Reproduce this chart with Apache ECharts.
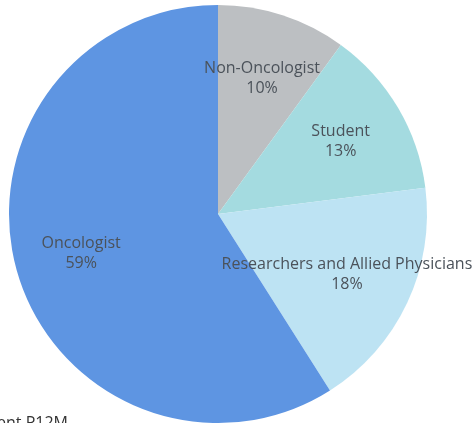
<!DOCTYPE html>
<html>
<head>
<meta charset="utf-8">
<style>
  html, body { margin: 0; padding: 0; background: #fff; }
  #chart { width: 472px; height: 423px; }
</style>
<script src="https://cdn.jsdelivr.net/npm/echarts@6/dist/echarts.min.js"></script>
</head>
<body>
<div id="chart"></div>
<script>
const categories = ["Non-Oncologist", "Student", "Researchers and Allied Physicians", "Oncologist"];
const shares = [10, 13, 18, 59];
const sliceColors = ["#bcbfc2", "#a4dbe0", "#bde3f3", "#5e95e2"];

const pieData = categories.map((name, i) => ({
  name,
  value: shares[i],
  itemStyle: { color: sliceColors[i] },
}));

const chart = echarts.init(document.getElementById("chart"), null, { renderer: "canvas" });
chart.setOption({
  backgroundColor: "#fff",
  animation: false,
  graphic: [
    {
      type: "text",
      x: 68,
      y: 415,
      style: {
        text: "Segment P12M",
        textAlign: "right",
        fill: "#333",
        font: "16px 'Open Sans', sans-serif",
      },
    },
  ],
  series: [
    {
      type: "pie",
      center: [218, 214],
      radius: [0, 209],
      startAngle: 90,
      clockwise: true,
      silent: true,
      label: { show: false },
      labelLine: { show: false },
      data: pieData,
    },
    {
      // label carrier: same slices, invisible, labels placed further out
      type: "pie",
      center: [218, 214],
      radius: [70, 209],
      startAngle: 90,
      clockwise: true,
      silent: true,
      itemStyle: { color: "transparent" },
      label: {
        show: true,
        position: "inside",
        formatter: "{b}\n{d}%",
        color: "#4b525a",
        fontFamily: "'Open Sans', sans-serif",
        fontSize: 16,
        lineHeight: 20,
        align: "center",
      },
      labelLine: { show: false },
      data: pieData.map(d => ({ name: d.name, value: d.value, itemStyle: { color: "transparent" } })),
    },
  ],
});
</script>
</body>
</html>
